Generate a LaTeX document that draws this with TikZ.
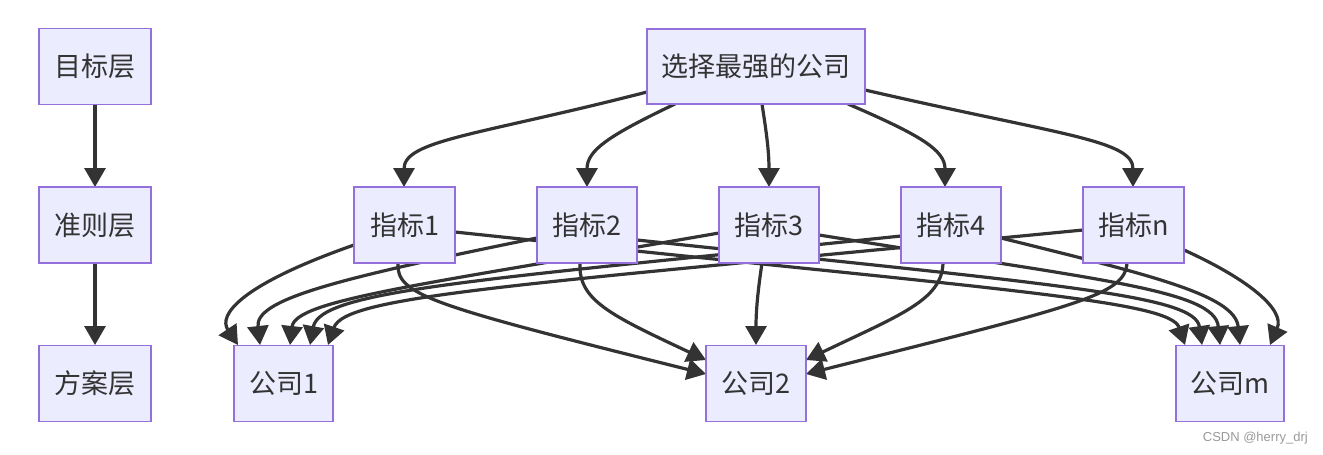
\documentclass[tikz,border=0pt]{standalone}
\usepackage{fontspec}
\setmainfont{Noto Sans CJK SC}
\usetikzlibrary{arrows.meta}
\definecolor{nodefill}{HTML}{ECECFF}
\definecolor{nodeline}{HTML}{9370DB}
\definecolor{txt}{HTML}{333333}
\definecolor{wm}{HTML}{999999}
\begin{document}
\begin{tikzpicture}[x=1pt,y=-1pt,
  box/.style={draw=nodeline,fill=nodefill,line width=1.5pt,text=txt,
    font=\fontsize{27}{32}\selectfont,inner sep=0pt,minimum height=76pt},
  edge/.style={draw=txt,line width=3.2pt,
    -{Triangle[length=19pt,width=21pt]}}]
\useasboundingbox (0,0) rectangle (1323,455);
% ---- anchor points of the nodes (nodes are drawn over the edges)
\path (95,104) coordinate (g1b) (95,187) coordinate (g2t)
      (95,263) coordinate (g2b) (95,345) coordinate (g3t);
% left chain
\draw[edge] (g1b) -- (g2t);
\draw[edge] (g2b) -- (g3t);
% top -> indicators
\draw[edge] (647,92) .. controls (480,135) and (404,140) .. (404,187);
\draw[edge] (675,104) .. controls (610,135) and (587,150) .. (587,187);
\draw[edge] (762,104) .. controls (766,130) and (769,150) .. (769,187);
\draw[edge] (848,104) .. controls (920,135) and (945,150) .. (945,187);
\draw[edge] (865,90) .. controls (1060,135) and (1133,140) .. (1133,187);
% indicators -> company 1
\draw[edge] (354,245) .. controls (240,285) and (218,315) .. (238,345);
\draw[edge] (537,238) .. controls (330,280) and (255,300) .. (260,345);
\draw[edge] (719,233) .. controls (420,285) and (295,300) .. (290,345);
\draw[edge] (901,236) .. controls (480,280) and (320,290) .. (310,345);
\draw[edge] (1083,230) .. controls (520,285) and (345,295) .. (328,345);
% indicators -> company 2
\draw[edge] (398,263) .. controls (396,295) and (430,305) .. (706,374);
\draw[edge] (580,263) .. controls (578,300) and (610,315) .. (706,360);
\draw[edge] (762,263) .. controls (758,290) and (756,310) .. (756,345);
\draw[edge] (943,263) .. controls (942,300) and (900,315) .. (806,360);
\draw[edge] (1127,263) .. controls (1125,295) and (1080,305) .. (806,374);
% indicators -> company m
\draw[edge] (455,232) .. controls (1000,290) and (1170,300) .. (1185,345);
\draw[edge] (637,240) .. controls (1060,285) and (1195,295) .. (1202,345);
\draw[edge] (819,235) .. controls (1100,280) and (1215,290) .. (1220,345);
\draw[edge] (1001,238) .. controls (1150,275) and (1235,295) .. (1240,345);
\draw[edge] (1184,250) .. controls (1250,280) and (1285,310) .. (1270,345);
% nodes
\node[box,minimum width=112pt] (g1) at (95,66.5) {目标层};
\node[box,minimum width=112pt] (g2) at (95,225) {准则层};
\node[box,minimum width=112pt] (g3) at (95,383.5) {方案层};
\node[box,minimum width=218pt,minimum height=75pt] (top) at (756,66.5) {选择最强的公司};
\node[box,minimum width=101pt] (z1) at (404.5,225) {指标1};
\node[box,minimum width=100pt] (z2) at (587,225) {指标2};
\node[box,minimum width=100pt] (z3) at (769,225) {指标3};
\node[box,minimum width=100pt] (z4) at (951,225) {指标4};
\node[box,minimum width=101pt] (zn) at (1133.5,225) {指标n};
\node[box,minimum width=99pt] (c1) at (283.5,383.5) {公司1};
\node[box,minimum width=100pt] (c2) at (756,383.5) {公司2};
\node[box,minimum width=108pt] (cm) at (1230,383.5) {公司m};
\node[text=wm,font=\fontspec{Liberation Sans}\fontsize{13}{15}\selectfont,anchor=east,inner sep=0pt] (wmk) at (1308,438) {CSDN @herry\_drj};
\end{tikzpicture}
\end{document}
